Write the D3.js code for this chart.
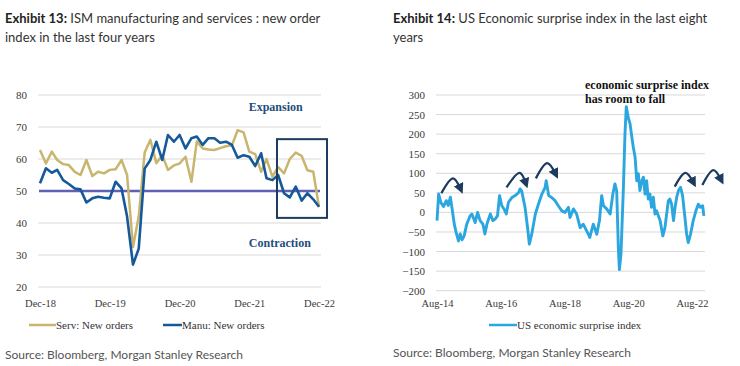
<!DOCTYPE html>
<html>
<head>
<meta charset="utf-8">
<script src="https://cdn.jsdelivr.net/npm/d3@7"></script>
<style>
  body { margin: 0; background: #fff; }
  svg { display: block; }
</style>
</head>
<body>
<div id="chart"></div>
<script>
// Two exhibits side by side: ISM new orders (left) and US economic surprise (right)

// --- left chart data (monthly, Dec-18 -> Dec-22) ---
const months = d3.timeMonth.range(new Date(2018, 11, 1), new Date(2022, 11, 2))
const servOrders = [62.8, 58.6, 62.3, 59.7, 58.4, 58.1, 56, 55, 59.7, 54.7, 56, 55.5, 56.6,
  56.8, 59.7, 55, 32.5, 42, 62, 66, 58.7, 61.2, 56.6, 58, 58.6,
  60.7, 52.9, 65.5, 63.3, 63, 62.8, 63.4, 64, 64.3, 69, 68.3, 62.3,
  61.5, 56, 60, 54.5, 57.5, 55.5, 60, 62, 61, 56.5, 56, 45]
const manuOrders = [52.4, 57.1, 55.7, 56.6, 53.4, 52.2, 50.8, 50.5, 46.4, 47.7, 48.2, 47.9, 47.7,
  52.9, 50.8, 42, 27, 32, 57, 59.7, 65.4, 59.7, 67.5, 65.4, 67.5,
  63.3, 66.5, 67, 64.4, 66.5, 66.5, 65.1, 65.4, 64.4, 60.4, 61.2, 60.7,
  57.8, 61.8, 54, 53.4, 55, 49.3, 48, 51.4, 47, 49.3, 47.4, 45.1]
const leftYTicks = [20, 30, 40, 50, 60, 70, 80]
const leftXTicks = ["2018-12-01", "2019-12-01", "2020-12-01", "2021-12-01", "2022-12-01"]
const leftXLabels = ["Dec-18", "Dec-19", "Dec-20", "Dec-21", "Dec-22"]
const threshold = 50
// highlighted window (last months of 2022)
const boxDates = ["2022-04-25", "2023-01-12"]
const boxValues = [66.2, 41.6]

// --- right chart data (US economic surprise index) ---
const surpriseDates = [
  "2014-08-01", "2014-08-20", "2014-09-15", "2014-10-15", "2014-11-15", "2014-12-08",
  "2015-01-01", "2015-01-24", "2015-02-15", "2015-03-08", "2015-04-04", "2015-04-24",
  "2015-05-15", "2015-06-08", "2015-07-08", "2015-08-15", "2015-09-05", "2015-10-12",
  "2015-11-09", "2015-12-08", "2016-01-09", "2016-02-01", "2016-02-24", "2016-04-03",
  "2016-05-03", "2016-05-28", "2016-06-24", "2016-07-18", "2016-08-12", "2016-09-09",
  "2016-10-03", "2016-10-28", "2016-12-06", "2017-01-13", "2017-02-21", "2017-03-10",
  "2017-03-28", "2017-05-06", "2017-06-03", "2017-06-24", "2017-07-22", "2017-09-01",
  "2017-10-06", "2017-11-15", "2017-12-22", "2018-01-03", "2018-02-01", "2018-03-07",
  "2018-04-15", "2018-05-22", "2018-07-01", "2018-08-07", "2018-09-15", "2018-10-03",
  "2018-11-12", "2018-12-18", "2019-01-27", "2019-03-03", "2019-04-12", "2019-05-18",
  "2019-06-27", "2019-08-06", "2019-09-06", "2019-10-01", "2019-10-21", "2019-11-27",
  "2020-01-06", "2020-02-06", "2020-03-01", "2020-03-21", "2020-04-09", "2020-04-21",
  "2020-05-09", "2020-06-06", "2020-06-24", "2020-07-09", "2020-08-03", "2020-08-21",
  "2020-09-09", "2020-09-27", "2020-10-18", "2020-11-06", "2020-11-24", "2020-12-12",
  "2021-01-03", "2021-01-21", "2021-02-09", "2021-02-27", "2021-03-18", "2021-04-06",
  "2021-04-24", "2021-05-15", "2021-06-03", "2021-06-21", "2021-08-01", "2021-09-01",
  "2021-09-25", "2021-11-03", "2021-11-21", "2021-12-10", "2022-01-01", "2022-01-19",
  "2022-02-07", "2022-02-27", "2022-03-23", "2022-04-15", "2022-05-12", "2022-06-01",
  "2022-06-19", "2022-07-15", "2022-08-15", "2022-09-15", "2022-10-12", "2022-11-06",
  "2022-12-01", "2022-12-15"]
const surpriseValues = [
  -21, 47, 25, 15, 30, 18,
  39, 5, -30, -51, -73, -55,
  -70, -60, -30, -9, -4, -26,
  0, -21, -30, -55, -30, -4,
  -21, -17, -9, 43, 17, 8,
  -4, 26, 38, 43, 51, 60,
  55, 13, -38, -81, -55, -4,
  21, 47, 64, 81, 43, 38,
  30, 17, 4, 0, 13, -13,
  9, -4, -39, -30, -47, -64,
  -30, -56, -20, 43, 17, 9,
  -4, 47, 73, 55, -90, -146,
  -107, 64, 201, 270, 240, 227,
  195, 167, 141, 81, 99, 56,
  81, 90, 47, 81, 34, 47,
  13, 39, -4, 4, -21, -60,
  -39, 30, 34, 21, -21, 13,
  39, 56, 64, 43, -13, -56,
  -77, -56, -21, 4, 21, 13,
  17, -9]
const rightYTicks = [-200, -150, -100, -50, 0, 50, 100, 150, 200, 250, 300]
const rightXTicks = ["2014-08-01", "2016-08-01", "2018-08-01", "2020-08-01", "2022-08-01"]
const rightXLabels = ["Aug-14", "Aug-16", "Aug-18", "Aug-20", "Aug-22"]
// "peak then fall" arrows: [start, top, end] as [date, value]
const arrows = [
  [["2014-09-20", 49], ["2015-02-01", 87], ["2015-04-28", 60]],
  [["2016-10-06", 64], ["2017-03-06", 101], ["2017-05-15", 74]],
  [["2017-09-07", 87], ["2018-01-15", 126], ["2018-04-22", 98]],
  [["2022-01-15", 66], ["2022-05-18", 101], ["2022-08-18", 76]],
  [["2022-11-28", 70], ["2023-04-03", 108], ["2023-07-01", 83]]
]

const colors = {
  serv: "#c8b56e", manu: "#16599a", threshold: "#6061b3", surprise: "#2ba6de",
  grid: "#d9d9d9", tick: "#3a3a3a", navy: "#1c3b5e", label: "#1f4e7d"
}
const serif = "'Liberation Serif', 'Times New Roman', serif"
const sans = "Lato, 'Noto Sans', sans-serif"
const parse = d3.timeParse("%Y-%m-%d")

const W = 740, H = 366
const svg = d3.select("#chart").append("svg")
  .attr("width", W).attr("height", H)
  .attr("viewBox", `0 0 ${W} ${H}`)

// --- titles ---
function title(x, lines, bold) {
  const t = svg.append("text").attr("x", x).attr("y", 23)
    .attr("font-family", sans).attr("font-size", 13).attr("fill", "#333")
  t.append("tspan").attr("font-weight", 700).attr("fill", "#222").text(bold)
  t.append("tspan").text(" " + lines[0])
  svg.append("text").attr("x", x).attr("y", 42)
    .attr("font-family", sans).attr("font-size", 13).attr("fill", "#333")
    .text(lines[1])
}
title(5, ["ISM manufacturing and services : new order", "index in the last four years"], "Exhibit 13:")
title(393, ["US Economic surprise index in the last eight", "years"], "Exhibit 14:")

// sources
svg.append("text").attr("x", 5).attr("y", 359)
  .attr("font-family", sans).attr("font-size", 12).attr("fill", "#555")
  .text("Source: Bloomberg, Morgan Stanley Research")
svg.append("text").attr("x", 393).attr("y", 357)
  .attr("font-family", sans).attr("font-size", 12).attr("fill", "#555")
  .text("Source: Bloomberg, Morgan Stanley Research")

// ================= LEFT: ISM new orders =================
const xL = d3.scaleTime().domain([months[0], months[months.length - 1]]).range([40, 319])
const yL = d3.scaleLinear().domain([20, 80]).range([287, 95])
const gL = svg.append("g")

gL.selectAll("line.grid").data(leftYTicks.filter(v => v !== threshold)).join("line")
  .attr("x1", 38).attr("x2", 321)
  .attr("y1", d => yL(d)).attr("y2", d => yL(d))
  .attr("stroke", colors.grid).attr("stroke-width", 1)

gL.append("g").attr("transform", "translate(27,0)")
  .call(d3.axisLeft(yL).tickValues(leftYTicks).tickSize(0).tickPadding(0))
  .call(s => s.select(".domain").remove())
  .call(s => s.selectAll("text").attr("font-family", serif).attr("font-size", 11).attr("fill", colors.tick))

gL.append("g").attr("transform", "translate(0,299.5)")
  .call(d3.axisBottom(xL).tickValues(leftXTicks.map(parse)).tickSize(0).tickPadding(0)
    .tickFormat((d, i) => leftXLabels[i]))
  .call(s => s.select(".domain").remove())
  .call(s => s.selectAll("text").attr("font-family", serif).attr("font-size", 10.5).attr("fill", colors.tick))

// 50 line = expansion / contraction threshold
gL.append("line")
  .attr("x1", xL.range()[0] - 1).attr("x2", 320)
  .attr("y1", yL(threshold)).attr("y2", yL(threshold))
  .attr("stroke", colors.threshold).attr("stroke-width", 2.5)

const lineL = vals => d3.line().x((d, i) => xL(months[i])).y(d => yL(d))(vals)
gL.append("path").attr("d", lineL(servOrders))
  .attr("fill", "none").attr("stroke", colors.serv).attr("stroke-width", 2.5)
  .attr("stroke-linejoin", "round")
gL.append("path").attr("d", lineL(manuOrders))
  .attr("fill", "none").attr("stroke", colors.manu).attr("stroke-width", 2.6)
  .attr("stroke-linejoin", "round")

// highlight box on the recent months
gL.append("rect")
  .attr("x", xL(parse(boxDates[0]))).attr("y", yL(boxValues[0]))
  .attr("width", xL(parse(boxDates[1])) - xL(parse(boxDates[0])))
  .attr("height", yL(boxValues[1]) - yL(boxValues[0]))
  .attr("fill", "none").attr("stroke", colors.navy).attr("stroke-width", 2)

gL.append("text").attr("x", xL(parse("2022-04-18"))).attr("y", yL(75))
  .attr("text-anchor", "middle").attr("font-family", serif).attr("font-weight", 700)
  .attr("font-size", 12).attr("fill", colors.label).text("Expansion")
gL.append("text").attr("x", xL(parse("2022-05-10"))).attr("y", yL(32.5))
  .attr("text-anchor", "middle").attr("font-family", serif).attr("font-weight", 700)
  .attr("font-size", 12).attr("fill", colors.label).text("Contraction")

// legend
function legendItem(x1, x2, color, label, y) {
  svg.append("line").attr("x1", x1).attr("x2", x2).attr("y1", y).attr("y2", y)
    .attr("stroke", color).attr("stroke-width", 2.5)
  svg.append("text").attr("x", x2).attr("y", y + 3.8)
    .attr("font-family", serif).attr("font-size", 11).attr("fill", "#333").text(label)
}
legendItem(29, 56, colors.serv, "Serv: New orders", 325)
legendItem(163, 182, colors.manu, "Manu: New orders", 325)

// ================= RIGHT: economic surprise =================
const xR = d3.scaleTime().domain([parse("2014-08-01"), parse("2022-08-01")]).range([437, 692])
const yR = d3.scaleLinear().domain([-200, 300]).range([290.7, 95])
const gR = svg.append("g")

gR.selectAll("line.grid").data(rightYTicks).join("line")
  .attr("x1", 436).attr("x2", 705)
  .attr("y1", d => yR(d)).attr("y2", d => yR(d))
  .attr("stroke", colors.grid).attr("stroke-width", 1)

gR.append("g").attr("transform", "translate(425,0)")
  .call(d3.axisLeft(yR).tickValues(rightYTicks).tickSize(0).tickPadding(0))
  .call(s => s.select(".domain").remove())
  .call(s => s.selectAll("text").attr("font-family", serif).attr("font-size", 11).attr("fill", colors.tick))

gR.append("g").attr("transform", "translate(0,299.5)")
  .call(d3.axisBottom(xR).tickValues(rightXTicks.map(parse)).tickSize(0).tickPadding(0)
    .tickFormat((d, i) => rightXLabels[i]))
  .call(s => s.select(".domain").remove())
  .call(s => s.selectAll("text").attr("font-family", serif).attr("font-size", 10.5).attr("fill", colors.tick))

const surprise = surpriseDates.map((d, i) => [parse(d), surpriseValues[i]])
gR.append("path")
  .attr("d", d3.line().x(d => xR(d[0])).y(d => yR(d[1]))(surprise))
  .attr("fill", "none").attr("stroke", colors.surprise).attr("stroke-width", 2.9)
  .attr("stroke-linejoin", "round")

// arrows
svg.append("defs").append("marker")
  .attr("id", "head").attr("viewBox", "0 0 10 10").attr("refX", 5).attr("refY", 5)
  .attr("markerWidth", 4.5).attr("markerHeight", 4.5).attr("orient", "auto-start-reverse")
  .append("path").attr("d", "M0,0 L10,5 L0,10 z").attr("fill", colors.navy)

const arrowLine = d3.line().x(d => xR(parse(d[0]))).y(d => yR(d[1])).curve(d3.curveCatmullRom.alpha(0.5))
gR.selectAll("path.arrow").data(arrows).join("path")
  .attr("class", "arrow")
  .attr("d", d => arrowLine(d))
  .attr("fill", "none").attr("stroke", colors.navy).attr("stroke-width", 2.3)
  .attr("marker-end", "url(#head)")

// annotation
const note = gR.append("text").attr("x", 585).attr("y", 89)
  .attr("font-family", serif).attr("font-weight", 700).attr("font-size", 12).attr("fill", "#111")
note.append("tspan").text("economic surprise index")
note.append("tspan").attr("x", 585).attr("dy", 14).text("has room to fall")

legendItem(489, 517, colors.surprise, "US economic surprise index", 325)
</script>
</body>
</html>
